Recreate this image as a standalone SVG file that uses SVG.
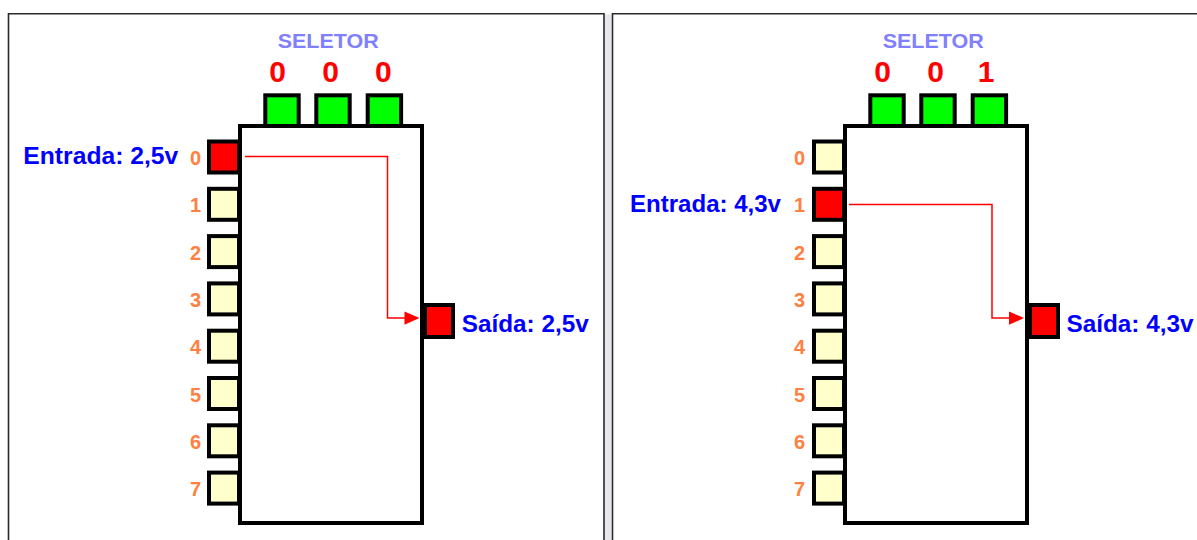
<svg xmlns="http://www.w3.org/2000/svg" width="1197" height="540" viewBox="0 0 1197 540">
<defs>
<style>
.frame{fill:none;stroke:#2a2a2a;stroke-width:1.6}
.body{fill:#fff;stroke:#000;stroke-width:4}
.sel{fill:#00ff00;stroke:#000;stroke-width:4}
.in{fill:#ffffcc;stroke:#000;stroke-width:4}
.on{fill:#ff0000;stroke:#000;stroke-width:4}
.pin{font-family:"Liberation Sans",Arial,sans-serif;font-weight:bold;font-size:20px;fill:#ff8040;text-anchor:middle}
.bit{font-family:"Liberation Sans",Arial,sans-serif;font-weight:bold;font-size:30px;fill:#ff0000;text-anchor:middle}
.title{font-family:"Liberation Sans",Arial,sans-serif;font-weight:bold;font-size:20px;fill:#8080ff}
.lbl{font-family:"Liberation Sans",Arial,sans-serif;font-weight:bold;font-size:24px;fill:#0000ff}
.wire{fill:none;stroke:#ff0000;stroke-width:1.5}
.head{fill:#ff0000}
</style>
</defs>
<rect x="0" y="0" width="1197" height="540" fill="#fff"/>
<g id="frames">
<rect x="605" y="14.5" width="6.5" height="526" fill="#e6e8ee"/>
<path class="frame" d="M8.5,540 V13.8 H604 V540"/>
<path class="frame" d="M612.5,540 V13.8 H1197"/>
</g>

<g id="mux-left">
<g id="body-left"><rect class="body" x="240" y="126" width="182" height="397"/></g>
<g id="title-left"><text class="title" x="277.7" y="48.3" textLength="101" lengthAdjust="spacingAndGlyphs">SELETOR</text></g>
<g id="sel-left">
<rect class="sel" x="265.3" y="95.3" width="33.4" height="30.7"/>
<rect class="sel" x="316.3" y="95.3" width="33.4" height="30.7"/>
<rect class="sel" x="367.7" y="95.3" width="33.4" height="30.7"/>
<text class="bit" x="277.7" y="82">0</text>
<text class="bit" x="330.5" y="82">0</text>
<text class="bit" x="383.3" y="82">0</text>
</g>
<g id="inputs-left">
<rect class="on" x="209" y="141.5" width="30" height="31"/>
<rect class="in" x="209" y="188.8" width="30" height="31"/>
<rect class="in" x="209" y="236.1" width="30" height="31"/>
<rect class="in" x="209" y="283.4" width="30" height="31"/>
<rect class="in" x="209" y="330.7" width="30" height="31"/>
<rect class="in" x="209" y="378" width="30" height="31"/>
<rect class="in" x="209" y="425.3" width="30" height="31"/>
<rect class="in" x="209" y="472.6" width="30" height="31"/>
<text class="pin" x="195.5" y="165">0</text>
<text class="pin" x="195.5" y="212.3">1</text>
<text class="pin" x="195.5" y="259.6">2</text>
<text class="pin" x="195.5" y="306.9">3</text>
<text class="pin" x="195.5" y="354.2">4</text>
<text class="pin" x="195.5" y="401.5">5</text>
<text class="pin" x="195.5" y="448.8">6</text>
<text class="pin" x="195.5" y="496.1">7</text>
</g>
<g id="output-left"><rect class="on" x="425" y="305" width="28" height="32"/></g>
<g id="label-in-left"><text class="lbl" x="23.3" y="164" textLength="155" lengthAdjust="spacingAndGlyphs">Entrada: 2,5v</text></g>
<g id="label-out-left"><text class="lbl" x="461.7" y="331.7" textLength="127" lengthAdjust="spacingAndGlyphs">Saída: 2,5v</text></g>
</g>

<g id="mux-right">
<g id="body-right"><rect class="body" x="845" y="126" width="182" height="397"/></g>
<g id="title-right"><text class="title" x="882.7" y="48.3" textLength="101" lengthAdjust="spacingAndGlyphs">SELETOR</text></g>
<g id="sel-right">
<rect class="sel" x="870.3" y="95.3" width="33.4" height="30.7"/>
<rect class="sel" x="921.3" y="95.3" width="33.4" height="30.7"/>
<rect class="sel" x="972.7" y="95.3" width="33.4" height="30.7"/>
<text class="bit" x="882.7" y="82">0</text>
<text class="bit" x="935.5" y="82">0</text>
<text class="bit" x="986" y="82">1</text>
</g>
<g id="inputs-right">
<rect class="in" x="814" y="141.5" width="30" height="31"/>
<rect class="on" x="814" y="188.8" width="30" height="31"/>
<rect class="in" x="814" y="236.1" width="30" height="31"/>
<rect class="in" x="814" y="283.4" width="30" height="31"/>
<rect class="in" x="814" y="330.7" width="30" height="31"/>
<rect class="in" x="814" y="378" width="30" height="31"/>
<rect class="in" x="814" y="425.3" width="30" height="31"/>
<rect class="in" x="814" y="472.6" width="30" height="31"/>
<text class="pin" x="799.5" y="165">0</text>
<text class="pin" x="799.5" y="212.3">1</text>
<text class="pin" x="799.5" y="259.6">2</text>
<text class="pin" x="799.5" y="306.9">3</text>
<text class="pin" x="799.5" y="354.2">4</text>
<text class="pin" x="799.5" y="401.5">5</text>
<text class="pin" x="799.5" y="448.8">6</text>
<text class="pin" x="799.5" y="496.1">7</text>
</g>
<g id="output-right"><rect class="on" x="1030" y="305" width="28" height="32"/></g>
<g id="label-in-right"><text class="lbl" x="630" y="211.7" textLength="151" lengthAdjust="spacingAndGlyphs">Entrada: 4,3v</text></g>
<g id="label-out-right"><text class="lbl" x="1066.5" y="331.7" textLength="127" lengthAdjust="spacingAndGlyphs">Saída: 4,3v</text></g>
</g>

<g id="connectors">
<path class="wire" d="M245,156.5 H387.5 V318 H406"/>
<polygon class="head" points="404.5,311.5 419.5,318 404.5,324.8"/>
<path class="wire" d="M849,204.5 H992 V318 H1010"/>
<polygon class="head" points="1009,311.5 1024,318 1009,324.8"/>
</g>
</svg>
